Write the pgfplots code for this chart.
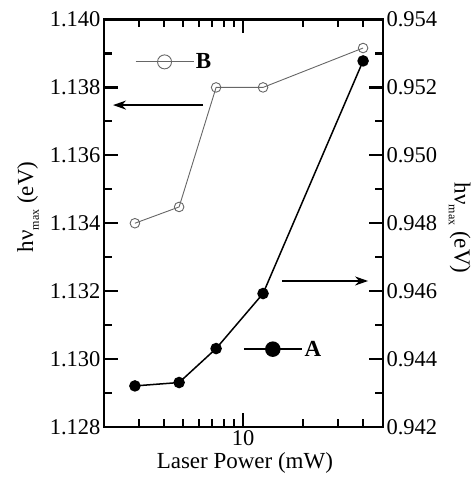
\documentclass[border=0pt]{standalone}
\usepackage{pgfplots}
\pgfplotsset{compat=1.18}
\usetikzlibrary{arrows.meta}
\usepackage{fontspec}
\setmainfont{Liberation Serif}
\newcommand{\hvmax}{hν\raisebox{-0.55ex}{\fontsize{12}{12}\selectfont max}\ (eV)}
\begin{document}
\begin{tikzpicture}
\begin{axis}[
  scale only axis, width=279pt, height=407.5pt,
  xmode=log, xmin=2, xmax=50.5,
  axis on top,
  tickwidth=14pt, subtickwidth=8pt,
  tick style={black, line width=2.2pt},
  axis line style={line width=2.5pt},
  tick label style={font=\fontsize{22.5}{26}\selectfont},
  /pgf/number format/assume math mode=true,
  yticklabel style={/pgf/number format/fixed, /pgf/number format/fixed zerofill, /pgf/number format/precision=3},
  ymin=1.128, ymax=1.140,
  ytick={1.128,1.130,1.132,1.134,1.136,1.138,1.140},
  minor ytick={1.129,1.131,1.133,1.135,1.137,1.139},
  xtick={10}, xticklabels={10},
  minor xtick={3,4,5,6,7,8,9,20,30,40},
  ylabel={\hvmax},
  xlabel={Laser Power (mW)},
  every axis y label/.style={at={(rel axis cs:-0.272,0.54)}, anchor=center, rotate=90, font=\fontsize{23}{27}\selectfont},
  every axis x label/.style={at={(rel axis cs:0.505,-0.088)}, anchor=center, font=\fontsize{23}{27}\selectfont},
  legend style={draw=none, fill=none, font=\fontsize{23}{27}\selectfont\bfseries, at={(rel axis cs:0.1,0.896)}, anchor=west},
  legend image code/.code={\draw[#1, mark size=7pt, mark repeat=2, mark phase=2] plot coordinates {(0pt,0pt) (29pt,0pt) (58pt,0pt)};},
]
\addplot[gray!80!black, line width=0.9pt, mark=o, mark size=4.8pt, mark options={fill=white, line width=0.9pt}]
  coordinates {(2.86,1.1340) (4.77,1.13448) (7.32,1.1380) (12.6,1.1380) (40.1,1.13916)};
\addlegendentry{B}
\draw[line width=1.6pt, -{Stealth[length=13pt, width=9pt]}] (axis cs:6.29,1.13748) -- (axis cs:2.22,1.13748);
\draw[line width=1.6pt, -{Stealth[length=13pt, width=9pt]}] (axis cs:15.7,1.1323) -- (axis cs:42.5,1.1323);
\coordinate (bl) at (rel axis cs:0,0);
\coordinate (tr) at (rel axis cs:1,1);
\end{axis}
\begin{axis}[
  scale only axis, width=279pt, height=407.5pt,
  xmode=log, xmin=2, xmax=50.5,
  axis on top,
  tickwidth=14pt, subtickwidth=8pt,
  tick style={black, line width=2.2pt},
  axis line style={line width=2.5pt},
  tick label style={font=\fontsize{22.5}{26}\selectfont},
  /pgf/number format/assume math mode=true,
  yticklabel style={/pgf/number format/fixed, /pgf/number format/fixed zerofill, /pgf/number format/precision=3},
  ymin=0.942, ymax=0.954,
  ytick={0.942,0.944,0.946,0.948,0.950,0.952,0.954},
  minor ytick={0.943,0.945,0.947,0.949,0.951,0.953},
  xtick=\empty, minor xtick={},
  yticklabel pos=right,
  ylabel={\hvmax},
  every axis y label/.style={at={(rel axis cs:1.275,0.488)}, anchor=center, rotate=-90, font=\fontsize{23}{27}\selectfont},
  legend style={draw=none, fill=none, font=\fontsize{23}{27}\selectfont\bfseries, at={(rel axis cs:0.487,0.191)}, anchor=west},
  legend image code/.code={\draw[#1, mark size=7pt, mark repeat=2, mark phase=2] plot coordinates {(0pt,0pt) (29pt,0pt) (58pt,0pt)};},
]
\addplot[black, line width=1.5pt, mark=*, mark size=5pt, mark options={fill=black}]
  coordinates {(2.86,0.94321) (4.77,0.94331) (7.32,0.94431) (12.6,0.94593) (40.1,0.95278)};
\addlegendentry{A}
\end{axis}
\begin{scope}[shift={(bl)}, line width=2.2pt, black]
\foreach \x in {35.0,59.9,79.2,94.9,108.3,119.8,130.0,199.0,234.0,258.9}{
  \draw (\x pt,0pt) -- (\x pt,8pt);
  \draw (\x pt,407.5pt) -- (\x pt,399.5pt);
}
\draw (139.1pt,0pt) -- (139.1pt,14pt);
\draw (139.1pt,407.5pt) -- (139.1pt,393.5pt);
\foreach \y in {67.92,135.83,203.75,271.67,339.58}{
  \draw (0pt,\y pt) -- (14pt,\y pt);
  \draw (279pt,\y pt) -- (265pt,\y pt);
}
\foreach \y in {33.96,101.88,169.79,237.71,305.63,373.54}{
  \draw (0pt,\y pt) -- (8pt,\y pt);
  \draw (279pt,\y pt) -- (271pt,\y pt);
}
\end{scope}
\pgfresetboundingbox
\path ([shift={(-104pt,-50pt)}]bl) rectangle ([shift={(91pt,19.5pt)}]tr);
\end{tikzpicture}
\end{document}
